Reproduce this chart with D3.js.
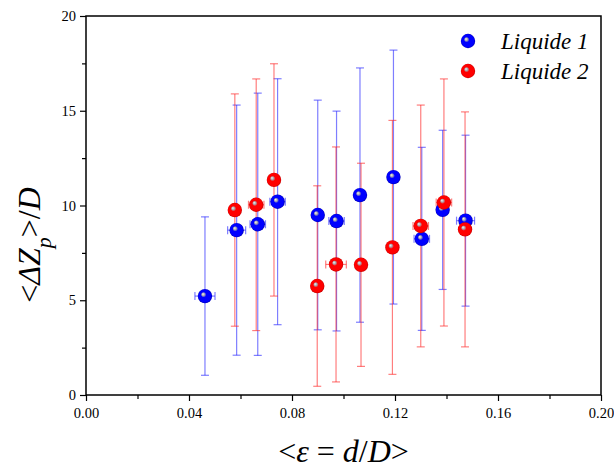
<!DOCTYPE html>
<html><head><meta charset="utf-8">
<script src="https://cdn.jsdelivr.net/npm/d3@7/dist/d3.min.js"></script>
<style>body{margin:0;background:#fff}svg{display:block}</style>
</head><body>
<script>
// Liquide 1 (blue)
const x1 = [0.0462,0.0585,0.0667,0.0744,0.0900,0.0973,0.1064,0.1194,0.1304,0.1385,0.1474];
const y1 = [5.22,8.70,9.01,10.20,9.50,9.18,10.55,11.50,8.24,9.77,9.20];
const ey1 = [4.18,6.60,6.92,6.49,6.06,5.80,6.71,6.70,4.83,4.20,4.51];
const ex1 = [0.0039,0.0035,0.003,0.003,0.002,0.003,0.0015,0.002,0.003,0.002,0.0035];
// Liquide 2 (red)
const x2 = [0.0578,0.0661,0.0730,0.0898,0.0971,0.1068,0.1190,0.1300,0.1390,0.1472];
const y2 = [9.76,10.04,11.35,5.75,6.89,6.87,7.79,8.92,10.16,8.74];
const ey2 = [6.13,6.64,6.13,5.29,6.20,5.36,6.70,6.38,6.52,6.20];
const ex2 = [0.0015,0.003,0.0015,0.002,0.004,0.002,0.002,0.003,0.003,0.0015];
const xTicks = [0.00,0.04,0.08,0.12,0.16,0.20];
const yTicks = [0,5,10,15,20];
const seriesNames = ["Liquide 1","Liquide 2"];

const W=614,H=469;
const L=86,R=601,T=16,B=395;
const svg=d3.select("body").append("svg").attr("width",W).attr("height",H);
const defs=svg.append("defs");
function grad(id,c,dark){
  const g=defs.append("radialGradient").attr("id",id).attr("cx","0.5").attr("cy","0.5").attr("r","0.5")
    .attr("fx","0.35").attr("fy","0.35");
  g.append("stop").attr("offset","0").attr("stop-color","#f4f4f4");
  g.append("stop").attr("offset","0.2").attr("stop-color","#a8a8b0");
  g.append("stop").attr("offset","0.38").attr("stop-color",c);
  g.append("stop").attr("offset","0.85").attr("stop-color",c);
  g.append("stop").attr("offset","1").attr("stop-color",dark);
}
grad("gb","#0000ff","#0000b8");
grad("gr","#ff0000","#c80000");

const x=d3.scaleLinear().domain([0,0.2]).range([L,R]);
const y=d3.scaleLinear().domain([0,20]).range([B,T]);
const font="Liberation Serif, Times New Roman, serif";

// axes
const xa=svg.append("g").attr("transform",`translate(0,${B})`)
  .call(d3.axisBottom(x).tickValues(d3.range(0,0.2001,0.02)).tickSize(6).tickFormat(d=>{
    const m=xTicks.find(t=>Math.abs(t-d)<1e-9); return m===undefined?"":d3.format(".2f")(m);}));
xa.selectAll(".tick line").attr("y2",(d)=>xTicks.some(t=>Math.abs(t-d)<1e-9)?6:4);
const ya=svg.append("g").attr("transform",`translate(${L},0)`)
  .call(d3.axisLeft(y).tickValues(d3.range(0,20.01,2.5)).tickSize(6).tickFormat(d=>yTicks.includes(d)?d:""));
ya.selectAll(".tick line").attr("x2",(d)=>yTicks.includes(d)?-6:-4);
[xa,ya].forEach(a=>{a.select(".domain").remove();
  a.attr("font-family",font).attr("font-size",14.5);
  a.selectAll(".tick line").attr("stroke","#000").attr("stroke-width",1.2);
  a.selectAll("text").attr("font-family",font).attr("font-size",14.5).attr("fill","#000");});
xa.selectAll("text").attr("dy","0.95em");
ya.selectAll("text").attr("dx","-1");

svg.append("rect").attr("x",L).attr("y",T).attr("width",R-L).attr("height",B-T)
  .attr("fill","none").attr("stroke","#000").attr("stroke-width",1.5);

// error bars
function errs(xs,ys,eys,exs,col){
  const g=svg.append("g").attr("stroke",col).attr("stroke-width",1.2).attr("fill","none");
  xs.forEach((xv,i)=>{
    const cx=x(xv),t=y(ys[i]+eys[i]),b=y(ys[i]-eys[i]);
    g.append("line").attr("x1",cx).attr("x2",cx).attr("y1",t).attr("y2",b);
    g.append("line").attr("x1",cx-4).attr("x2",cx+4).attr("y1",t).attr("y2",t);
    g.append("line").attr("x1",cx-4).attr("x2",cx+4).attr("y1",b).attr("y2",b);
    const l=x(xv-exs[i]),r=x(xv+exs[i]),cy=y(ys[i]);
    g.append("line").attr("x1",l).attr("x2",r).attr("y1",cy).attr("y2",cy);
    g.append("line").attr("x1",l).attr("x2",l).attr("y1",cy-4).attr("y2",cy+4);
    g.append("line").attr("x1",r).attr("x2",r).attr("y1",cy-4).attr("y2",cy+4);
  });
}
errs(x1,y1,ey1,ex1,"rgba(40,40,255,0.6)");
errs(x2,y2,ey2,ex2,"rgba(255,40,40,0.6)");

function pts(xs,ys,gid){
  svg.append("g").selectAll("circle").data(xs).join("circle")
    .attr("cx",(d)=>x(d)).attr("cy",(d,i)=>y(ys[i])).attr("r",7.2).attr("fill",`url(#${gid})`);
}
pts(x1,y1,"gb");
pts(x2,y2,"gr");

// legend
const lg=svg.append("g");
[["gb",41,49],["gr",71,79]].forEach((d,i)=>{
  lg.append("circle").attr("cx",468).attr("cy",d[1]).attr("r",7.2).attr("fill",`url(#${d[0]})`);
  lg.append("text").attr("x",501).attr("y",d[2]).attr("font-family",font).attr("font-style","italic")
    .attr("font-size",23).text(seriesNames[i]);
});

// axis titles
const xt=svg.append("text").attr("x",(L+R)/2).attr("y",462).attr("text-anchor","middle")
  .attr("font-family",font).attr("font-size",32);
xt.append("tspan").text("<");
xt.append("tspan").attr("font-style","italic").text("ε");
xt.append("tspan").text(" = ");
xt.append("tspan").attr("font-style","italic").text("d");
xt.append("tspan").text("/");
xt.append("tspan").attr("font-style","italic").text("D");
xt.append("tspan").text(">");

const yt=svg.append("text").attr("transform","translate(40,245) rotate(-90)").attr("text-anchor","middle")
  .attr("font-family",font).attr("font-size",32);
yt.append("tspan").text("<");
yt.append("tspan").attr("font-style","italic").text("ΔZ");
yt.append("tspan").attr("font-style","italic").attr("font-size",22).attr("dy",11).text("p");
yt.append("tspan").attr("dy",-11).text(">/");
yt.append("tspan").attr("font-style","italic").text("D");
</script>
</body></html>
